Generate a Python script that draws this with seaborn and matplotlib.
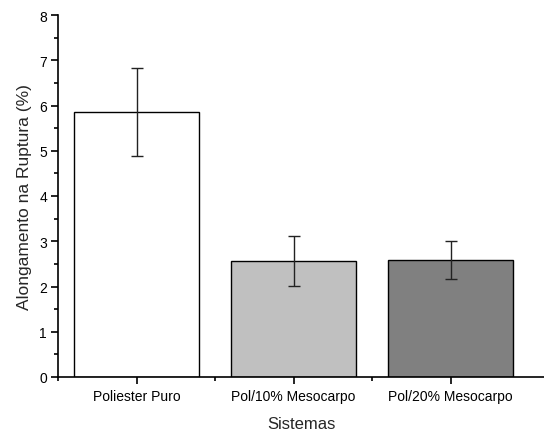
import matplotlib
matplotlib.use("Agg")
import matplotlib.pyplot as plt
import seaborn as sns
import pandas as pd
from matplotlib.ticker import MultipleLocator, FixedLocator

categories = ["Poliester Puro", "Pol/10% Mesocarpo", "Pol/20% Mesocarpo"]
values = [5.86, 2.57, 2.58]
errors = [0.97, 0.55, 0.42]
colors = ["#ffffff", "#c0c0c0", "#808080"]

sns.set_theme(style="ticks")
plt.rcParams["font.family"] = ["Liberation Sans", "DejaVu Sans"]

df = pd.DataFrame({"Sistemas": categories, "val": values})

fig = plt.figure(figsize=(5.44, 4.35), dpi=100)
ax = fig.add_axes([58/544, 1 - 378/435, 1 - 58/544, (378 - 16)/435])

sns.barplot(data=df, x="Sistemas", y="val", hue="Sistemas", palette=colors,
            order=categories, hue_order=categories, legend=False,
            edgecolor="black", linewidth=1.0, width=0.8, errorbar=None, ax=ax)
ax.errorbar(range(len(categories)), values, yerr=errors, fmt="none",
            ecolor="#222222", elinewidth=1.0, capsize=4, capthick=1.0)

ax.set_ylim(0, 8)
ax.set_xlim(-0.5, 2.595)
ax.yaxis.set_major_locator(MultipleLocator(1))
ax.yaxis.set_minor_locator(MultipleLocator(0.5))
ax.xaxis.set_minor_locator(FixedLocator([-0.5, 0.5, 1.5]))
ax.tick_params(axis="both", which="major", direction="out", length=5, width=1.2,
               labelsize=10, color="black", labelcolor="black")
ax.tick_params(axis="both", which="minor", direction="out", length=3, width=1.2, color="black")
ax.tick_params(axis="x", which="major", pad=4)
ax.tick_params(axis="y", which="major", pad=3)
for s in ["top", "right"]:
    ax.spines[s].set_visible(False)
for s in ["left", "bottom"]:
    ax.spines[s].set_linewidth(1.2)
    ax.spines[s].set_color("black")
    ax.spines[s].set_clip_on(False)

ax.set_xlabel("Sistemas", fontsize=12, labelpad=9)
ax.set_ylabel("Alongamento na Ruptura (%)", fontsize=12.5, labelpad=5,
              family=["Liberation Sans Narrow", "Liberation Sans", "DejaVu Sans"])

fig.savefig("out.png", dpi=100)
